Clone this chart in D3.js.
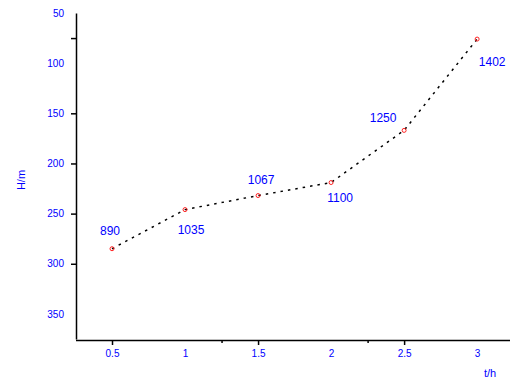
<!DOCTYPE html>
<html><head><meta charset="utf-8">
<script src="https://cdn.jsdelivr.net/npm/d3@7"></script>
<style>body{margin:0;background:#fff}svg{display:block}</style>
</head><body>
<script>
const xValues = [0.5, 1, 1.5, 2, 2.5, 3];
const xLabels = ["0.5", "1", "1.5", "2", "2.5", "3"];
const yValues = [285, 246, 232, 219, 167, 76];
const pointLabels = ["890", "1035", "1067", "1100", "1250", "1402"];
const yTickValues = [50, 100, 150, 200, 250, 300, 350];
const yMajorTicks = [75, 150, 200, 250, 300];
const xMajorTicks = [0.5, 1.5, 2.5];
const xMinorTicks = [1.25, 2.25];
const xTitle = "t/h";
const yTitle = "H/m";

const W = 510, H = 383;
const blue = "#0000ff";
const svg = d3.select("body").append("svg").attr("width", W).attr("height", H);

const x = d3.scaleLinear().domain([0.25, 3.225]).range([75.5, 510]);
const y = d3.scaleLinear().domain([50, 375]).range([13, 339]);

// x axis
const gx = svg.append("g").attr("transform", "translate(0,340)");
gx.call(d3.axisBottom(x).tickValues(xValues).tickFormat((d, i) => xLabels[i]).tickSize(0).tickPadding(10))
  .call(g => g.select(".domain").attr("stroke", "#000").attr("stroke-width", 1.5))
  .call(g => g.selectAll("text").attr("fill", blue).attr("font-size", 10).attr("font-family", "Liberation Sans, Arial, sans-serif"));
svg.append("g").attr("transform", "translate(0,340)")
  .call(d3.axisBottom(x).tickValues(xMajorTicks).tickFormat("").tickSize(5))
  .call(g => g.select(".domain").remove())
  .call(g => g.selectAll("line").attr("stroke", "#000").attr("stroke-width", 1.5));
svg.append("g").attr("transform", "translate(0,340)")
  .call(d3.axisBottom(x).tickValues(xMinorTicks).tickFormat("").tickSize(3))
  .call(g => g.select(".domain").remove())
  .call(g => g.selectAll("line").attr("stroke", "#000").attr("stroke-width", 1.5));

// y axis
svg.append("g").attr("transform", "translate(76,0)")
  .call(d3.axisLeft(y).tickValues(yTickValues).tickSize(0).tickPadding(12))
  .call(g => g.select(".domain").attr("stroke", "#000").attr("stroke-width", 1.5))
  .call(g => g.selectAll("text").attr("fill", blue).attr("font-size", 10).attr("font-family", "Liberation Sans, Arial, sans-serif"));
svg.append("g").attr("transform", "translate(76,0)")
  .call(d3.axisLeft(y).tickValues(yMajorTicks).tickFormat("").tickSize(5))
  .call(g => g.select(".domain").remove())
  .call(g => g.selectAll("line").attr("stroke", "#000").attr("stroke-width", 1.5));

// titles
svg.append("text").attr("x", 490).attr("y", 377).attr("text-anchor", "middle")
  .attr("fill", blue).attr("font-size", 11).attr("font-family", "Liberation Sans, Arial, sans-serif").text(xTitle);
svg.append("text").attr("transform", "translate(25,180) rotate(-90)").attr("text-anchor", "middle")
  .attr("fill", blue).attr("font-size", 11).attr("font-family", "Liberation Sans, Arial, sans-serif").text(yTitle);

// line
const pts = xValues.map((v, i) => [v, yValues[i]]);
svg.append("path").datum(pts)
  .attr("d", d3.line().x(d => x(d[0])).y(d => y(d[1])))
  .attr("fill", "none").attr("stroke", "#000").attr("stroke-width", 1.5).attr("stroke-dasharray", "2.5,5");

// markers
svg.selectAll("circle.m").data(pts).join("circle").attr("class", "m")
  .attr("cx", d => x(d[0])).attr("cy", d => y(d[1])).attr("r", 2)
  .attr("fill", "none").attr("stroke", "#ff2020").attr("stroke-width", 1);

// point labels
const offs = [[-2, -14], [6, 24], [3, -12], [9, 19], [-21, -8], [15, 27]];
svg.selectAll("text.pl").data(pts).join("text").attr("class", "pl")
  .attr("x", (d, i) => x(d[0]) + offs[i][0]).attr("y", (d, i) => y(d[1]) + offs[i][1])
  .attr("text-anchor", "middle").attr("fill", blue).attr("font-size", 12)
  .attr("font-family", "Liberation Sans, Arial, sans-serif")
  .text((d, i) => pointLabels[i]);
</script>
</body></html>
